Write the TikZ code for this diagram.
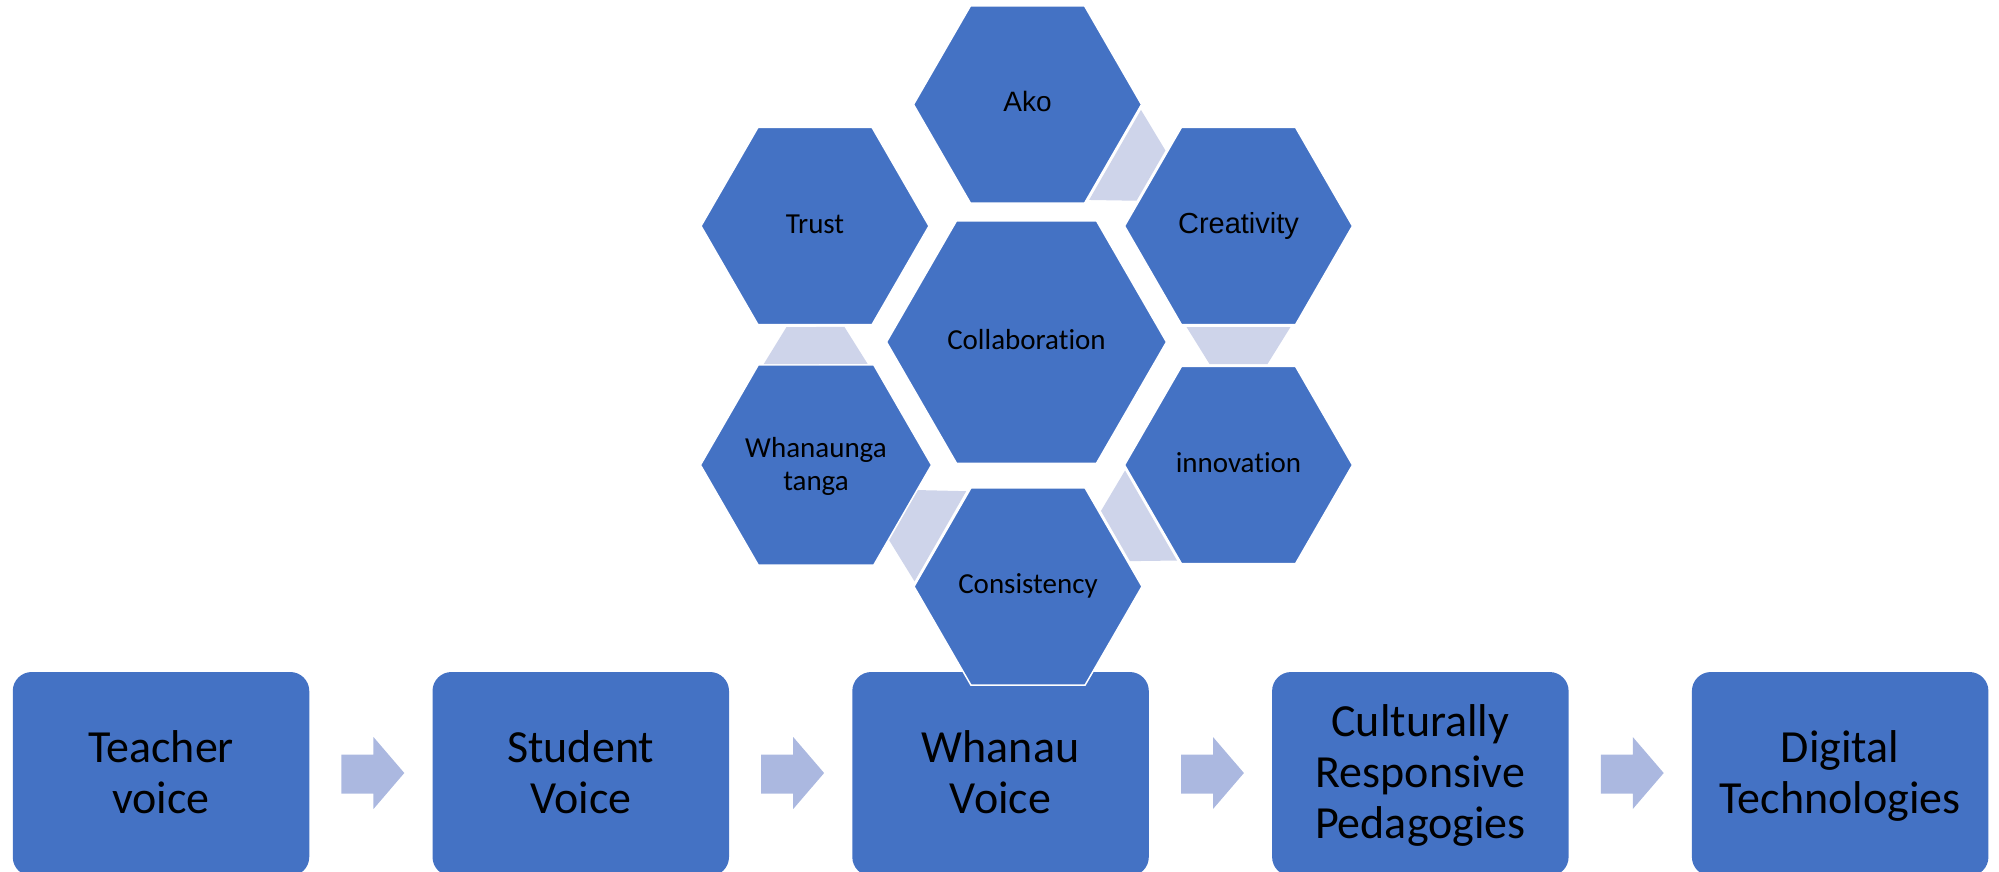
\documentclass[tikz,border=0pt]{standalone}
\usepackage{fontspec}
\setmainfont{Carlito}[Ligatures={TeX,NoCommon}]
\newfontfamily\arialf{Liberation Sans}
\usetikzlibrary{shapes.geometric,calc}
\definecolor{hexblue}{HTML}{4472C4}
\definecolor{arrowc}{HTML}{ABB8E0}
\definecolor{linkc}{HTML}{CED4EA}
\newcommand\tstr{\rule{0pt}{40pt}}
\newcommand\bstr{\rule[-13pt]{0pt}{13pt}}
\newcommand\hstr{\rule[-8pt]{0pt}{30pt}}
\newcommand\hexlink[2]{%
  \fill[link] ($(#1.center)!101pt!(#2.center)!52pt!90:(#2.center)$)
    -- ($(#1.center)!101pt!(#2.center)!52pt!-90:(#2.center)$)
    -- ($(#2.center)!101pt!(#1.center)!29pt!90:(#1.center)$)
    -- ($(#2.center)!101pt!(#1.center)!29pt!-90:(#1.center)$) -- cycle;}
\newcommand\flowarrow[2]{%
  \fill[flow] ($(#1.east)+(32,-19.5)$) -- ($(#1.east)+(64,-19.5)$)
    -- ($(#1.east)+(64,-37)$) -- ($(#2.west)+(-28,-1)$)
    -- ($(#1.east)+(64,35)$) -- ($(#1.east)+(64,19.5)$)
    -- ($(#1.east)+(32,19.5)$) -- cycle;}
\begin{document}
\begin{tikzpicture}[x=1pt,y=-1pt,
  box/.style={fill=hexblue, rounded corners=19pt, minimum width=296.5pt,
    minimum height=204pt, inner sep=0pt, align=center,
    font=\fontsize{46}{51}\selectfont},
  hexs/.style={regular polygon, regular polygon sides=6, fill=hexblue,
    draw=white, line width=1.5pt, minimum size=228pt, inner sep=0pt,
    align=center, font=\fontsize{29}{33}\selectfont},
  hexl/.style={hexs, minimum size=280pt},
  link/.style={fill=linkc},
  flow/.style={fill=arrowc}]
\useasboundingbox (0,0) rectangle (1999,871);
\clip (0,0) rectangle (1999,871);
% bottom process boxes
\node[box] (b1) at (161,774) {\tstr Teacher\\voice\bstr};
\node[box] (b2) at (580.75,774) {\tstr Student\\Voice\bstr};
\node[box] (b3) at (1000.55,774) {\tstr Whanau\\Voice\bstr};
\node[box] (b4) at (1420.35,774) {\tstr Culturally\\Responsive\\Pedagogies\bstr};
\node[box] (b5) at (1840.15,774) {\tstr Digital\\Technologies\bstr};
\flowarrow{b1}{b2}
\flowarrow{b2}{b3}
\flowarrow{b3}{b4}
\flowarrow{b4}{b5}
% hexagon cluster
\coordinate (cako) at (1027.5,104.5);
\coordinate (ctrust) at (815,226);
\coordinate (ccrea) at (1238.5,226);
\coordinate (ccoll) at (1026.5,342);
\coordinate (cwhan) at (816,465);
\coordinate (cinno) at (1238.5,465);
\coordinate (ccons) at (1028,586.5);
\node[hexs] (ako) at (cako) {\hstr{\arialf\fontsize{28}{33}\selectfont Ako}};
\node[hexs] (trust) at (ctrust) {\hstr Trust};
\node[hexs] (crea) at (ccrea) {\hstr{\arialf Creativity}};
\node[hexl] (coll) at (ccoll) {\hstr Collaboration};
\node[hexs] (whan) at (cwhan) {\rule{0pt}{26pt}Whanaunga\\tanga\rule[-9pt]{0pt}{9pt}};
\node[hexs] (inno) at (cinno) {\hstr innovation};
\node[hexs] (cons) at (ccons) {\hstr Consistency};
\hexlink{ako}{crea}
\hexlink{crea}{inno}
\hexlink{inno}{cons}
\hexlink{cons}{whan}
\hexlink{whan}{trust}
\end{tikzpicture}
\end{document}
